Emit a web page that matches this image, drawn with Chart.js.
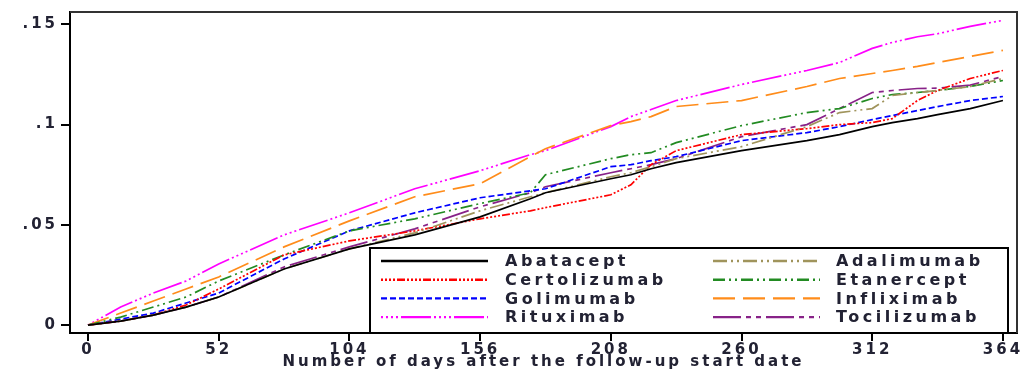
<!DOCTYPE html>
<html>
<head>
<meta charset="utf-8">
<script src="https://cdn.jsdelivr.net/npm/chart.js@4.4.1/dist/chart.umd.min.js"></script>
<style>
  html, body { margin: 0; padding: 0; background: #fff; }
  #wrap { width: 1023px; height: 371px; }
</style>
</head>
<body>
<div id="wrap"><canvas id="myChart" width="1023" height="371"></canvas></div>
<script>
// follow-up days where the curves were read
var days = [0, 13, 26, 39, 52, 78, 104, 130, 156, 176, 182, 208, 216, 224, 234, 260, 286, 299, 312, 320, 330, 338, 351, 364];

// cumulative incidence per drug (alphabetical, Stata legend order)
var abatacept    = [0, .002, .005, .009, .014, .028, .038, .045, .054, .063, .066, .073, .075, .078, .081, .087, .092, .095, .099, .101, .103, .105, .108, .112];
var adalimumab   = [0, .002, .005, .009, .014, .028, .038, .046, .057, .064, .066, .074, .076, .079, .083, .089, .099, .106, .108, .1145, .116, .117, .119, .123];
var certolizumab = [0, .002, .005, .010, .018, .035, .042, .047, .053, .057, .0586, .065, .070, .080, .087, .095, .098, .100, .101, .103, .112, .117, .123, .127];
var etanercept   = [0, .004, .009, .014, .022, .035, .047, .053, .0606, .066, .075, .083, .085, .086, .091, .0995, .106, .108, .113, .115, .116, .117, .119, .122];
var golimumab    = [0, .003, .006, .011, .016, .033, .047, .056, .0635, .067, .068, .079, .080, .082, .084, .092, .096, .099, .1025, .1045, .107, .109, .112, .114];
var infliximab   = [0, .006, .012, .018, .024, .039, .052, .064, .0705, .084, .088, .0995, .1015, .104, .109, .112, .119, .123, .1255, .127, .129, .131, .134, .137];
var rituximab    = [0, .009, .016, .022, .0305, .045, .056, .068, .077, .085, .087, .099, .104, .1075, .112, .120, .127, .131, .138, .141, .1438, .1453, .149, .152];
var tocilizumab  = [0, .002, .005, .009, .014, .029, .039, .048, .059, .066, .069, .076, .078, .080, .083, .094, .100, .108, .116, .117, .118, .1182, .1197, .124];

var names = ['Abatacept', 'Adalimumab', 'Certolizumab', 'Etanercept', 'Golimumab', 'Infliximab', 'Rituximab', 'Tocilizumab'];
var series = [abatacept, adalimumab, certolizumab, etanercept, golimumab, infliximab, rituximab, tocilizumab];
var colors = ['#000000', '#a0945c', '#ff0000', '#228b22', '#0000ff', '#ff8c1a', '#ff00ff', '#882288'];
var dashes = [
  [],
  [14, 4, 2, 4, 2, 4],
  [2, 2, 2, 2, 2, 2, 2, 2, 8, 2],
  [12, 4, 2, 4, 2, 4],
  [6, 3],
  [22, 8],
  [2, 3, 2, 3, 2, 3, 2, 3, 30, 3],
  [28, 5, 5, 5, 5, 5]
];

var xTicks = [0, 52, 104, 156, 208, 260, 312, 364];
var yTicks = [0, .05, .1, .15];
var yTickLabels = ['0', '.05', '.1', '.15'];

var txt = '#222233';
var fontFam = '"DejaVu Sans", "Liberation Sans", Arial, sans-serif';

var datasets = series.map(function (vals, i) {
  return {
    label: names[i],
    data: days.map(function (d, j) { return { x: d, y: vals[j] }; }),
    borderColor: colors[i],
    backgroundColor: colors[i],
    borderWidth: 1.7,
    borderDash: dashes[i],
    pointRadius: 0,
    tension: 0,
    fill: false
  };
});

// spacing for the stretched Stata-style text
var spacing = {
  id: 'spacing',
  beforeDraw: function (chart) { chart.ctx.letterSpacing = '3px'; }
};

// box round the plot and the 2-column legend inside it
var frameAndLegend = {
  id: 'frameAndLegend',
  afterDraw: function (chart) {
    var ctx = chart.ctx, a = chart.chartArea;
    ctx.save();
    ctx.strokeStyle = '#333';
    ctx.lineWidth = 2;
    ctx.beginPath();
    ctx.moveTo(a.left, a.top);
    ctx.lineTo(a.right, a.top);
    ctx.lineTo(a.right, a.bottom);
    ctx.stroke();

    var bx = 370, by = 248, bw = 638, bh = 85;
    ctx.fillStyle = '#fff';
    ctx.fillRect(bx, by, bw, bh);
    ctx.strokeStyle = '#000';
    ctx.lineWidth = 2;
    ctx.strokeRect(bx, by, bw, bh);

    ctx.font = 'bold 16px ' + fontFam;
    ctx.letterSpacing = '3.5px';
    ctx.textBaseline = 'middle';
    ctx.textAlign = 'left';
    for (var i = 0; i < names.length; i++) {
      var col = i % 2, row = Math.floor(i / 2);
      var y = 261 + row * 18.7;
      var x0 = col === 0 ? 381 : 713;
      ctx.strokeStyle = colors[i];
      ctx.lineWidth = 2.4;
      ctx.setLineDash(dashes[i]);
      ctx.beginPath();
      ctx.moveTo(x0, y);
      ctx.lineTo(x0 + 107, y);
      ctx.stroke();
      ctx.setLineDash([]);
      ctx.fillStyle = txt;
      ctx.fillText(names[i], col === 0 ? 505 : 836, y + 1);
    }
    ctx.restore();
  }
};

var ctx = document.getElementById('myChart').getContext('2d');
var myChart = new Chart(ctx, {
  type: 'line',
  data: { datasets: datasets },
  options: {
    responsive: false,
    animation: false,
    devicePixelRatio: 1,
    layout: { padding: { top: 8, right: 6, left: 0, bottom: 0 } },
    plugins: { legend: { display: false }, tooltip: { enabled: false } },
    scales: {
      x: {
        type: 'linear',
        min: -7.16,
        max: 369.6,
        afterBuildTicks: function (s) { s.ticks = xTicks.map(function (v) { return { value: v }; }); },
        afterFit: function (s) { s.height = 38; },
        ticks: {
          color: txt,
          padding: 0,
          maxRotation: 0,
          font: { family: fontFam, size: 15, weight: 'bold' },
          callback: function (v) { return String(v); }
        },
        grid: { drawOnChartArea: false, drawTicks: true, tickLength: 8, color: '#000', lineWidth: 2 },
        border: { display: true, color: '#000', width: 2 },
        title: {
          display: true,
          text: 'Number of days after the follow-up start date',
          color: txt,
          padding: { top: 0, bottom: 0 },
          font: { family: fontFam, size: 15, weight: 'bold' }
        }
      },
      y: {
        type: 'linear',
        min: -0.00394,
        max: 0.15616,
        afterBuildTicks: function (s) { s.ticks = yTicks.map(function (v) { return { value: v }; }); },
        afterFit: function (s) { s.width = 70; },
        ticks: {
          color: txt,
          padding: 3,
          font: { family: fontFam, size: 15, weight: 'bold' },
          callback: function (v) { var k = yTicks.indexOf(v); return k >= 0 ? yTickLabels[k] : ''; }
        },
        grid: { drawOnChartArea: false, drawTicks: true, tickLength: 9, color: '#000', lineWidth: 2 },
        border: { display: true, color: '#000', width: 2 }
      }
    }
  },
  plugins: [spacing, frameAndLegend]
});
</script>
</body>
</html>
